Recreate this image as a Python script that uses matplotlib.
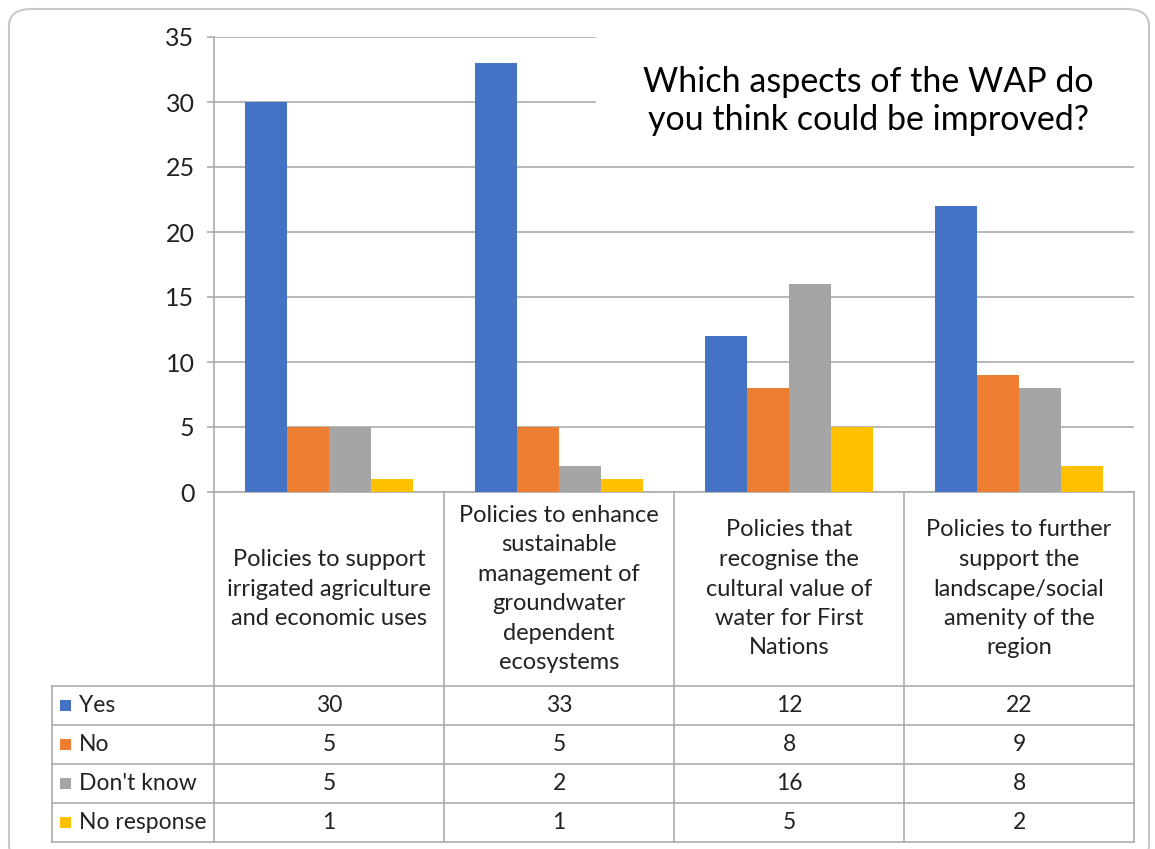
import matplotlib
matplotlib.use("Agg")
import matplotlib.pyplot as plt
from matplotlib.patches import FancyBboxPatch, Rectangle
import numpy as np

# data
categories = [
    "Policies to support\nirrigated agriculture\nand economic uses",
    "Policies to enhance\nsustainable\nmanagement of\ngroundwater\ndependent\necosystems",
    "Policies that\nrecognise the\ncultural value of\nwater for First\nNations",
    "Policies to further\nsupport the\nlandscape/social\namenity of the\nregion",
]
series_names = ["Yes", "No", "Don't know", "No response"]
yes = [30, 33, 12, 22]
no = [5, 5, 8, 9]
dont_know = [5, 2, 16, 8]
no_response = [1, 1, 5, 2]
yticks = [0, 5, 10, 15, 20, 25, 30, 35]

colors = ["#4472C4", "#ED7D31", "#A5A5A5", "#FFC000"]
series = [yes, no, dont_know, no_response]

plt.rcParams['font.family'] = ['Lato', 'DejaVu Sans']
W, H = 1155, 849
GRID = "#ababab"
TXT = "#222222"


def fx(px):
    return px / W


def fy(py):
    return 1 - py / H


fig = plt.figure(figsize=(W / 100, H / 100), dpi=100)

# rounded outer frame
frame = FancyBboxPatch((fx(9), fy(862)), fx(1149) - fx(9), fy(9) - fy(862),
                       boxstyle="round,pad=0,rounding_size=0.02",
                       transform=fig.transFigure, facecolor="white",
                       edgecolor="#c8c8c8", linewidth=1.5, zorder=-5)
fig.patches.append(frame)

# ---- bar chart ----
ax = fig.add_axes([fx(214), fy(492), fx(1134) - fx(214), (492 - 37) / H])
x = np.arange(len(categories))
bw = 0.183
for i, (vals, c) in enumerate(zip(series, colors)):
    ax.bar(x + (i - 1.5) * bw, vals, width=bw, color=c, zorder=3, label=series_names[i])

ax.set_xlim(-0.5, 3.5)
ax.set_ylim(0, 35)
ax.set_yticks(yticks)
ax.yaxis.grid(True, color=GRID, linewidth=1.2, zorder=0)
ax.set_xticks([])
ax.tick_params(axis='y', length=5, color=GRID, width=1.2, labelsize=18, pad=9,
               labelcolor=TXT)
for s in ["top", "right"]:
    ax.spines[s].set_visible(False)
for s in ["left", "bottom"]:
    ax.spines[s].set_color(GRID)
    ax.spines[s].set_linewidth(1.2)
ax.patch.set_alpha(0)

# title box covering the gridlines
fig.patches.append(Rectangle((fx(596), fy(158)), fx(1145) - fx(596), fy(30) - fy(158),
                             transform=fig.transFigure, facecolor="white",
                             edgecolor="none", zorder=2))
fig.text(fx(868), fy(101), "Which aspects of the WAP do\nyou think could be improved?",
         ha="center", va="center", fontsize=24.5, color="black", zorder=3,
         linespacing=1.2)

# ---- data table ----
tax = fig.add_axes([fx(214), fy(842), fx(1134) - fx(214), (842 - 492) / H])
tax.set_xlim(-0.5, 3.5)
tax.set_ylim(842, 492)
tax.axis("off")

colw = (1134 - 214) / 4
xleft = -0.5 + (52 - 214) / colw
row_edges = [686, 725, 764, 803, 842]

for e in row_edges:
    tax.plot([xleft, 3.5], [e, e], color=GRID, lw=1.2, clip_on=False)
for b in np.arange(-0.5, 4.0, 1.0):
    tax.plot([b, b], [492, 842], color=GRID, lw=1.2, clip_on=False)
tax.plot([xleft, xleft], [686, 842], color=GRID, lw=1.2, clip_on=False)

for i, cat in enumerate(categories):
    tax.text(i, 589, cat, ha="center", va="center", fontsize=17,
             color=TXT, linespacing=1.5)

for r, (name, vals, c) in enumerate(zip(series_names, series, colors)):
    yc = (row_edges[r] + row_edges[r + 1]) / 2
    tax.add_patch(Rectangle((xleft + 8 / colw, yc - 6), 11 / colw, 11, facecolor=c,
                            edgecolor="none", clip_on=False))
    tax.text(xleft + 27 / colw, yc, name, ha="left", va="center", fontsize=16.5,
             color=TXT)
    for i, v in enumerate(vals):
        tax.text(i, yc, str(v), ha="center", va="center", fontsize=16.5,
                 color=TXT)

fig.savefig("out.png", dpi=100, facecolor="white")
